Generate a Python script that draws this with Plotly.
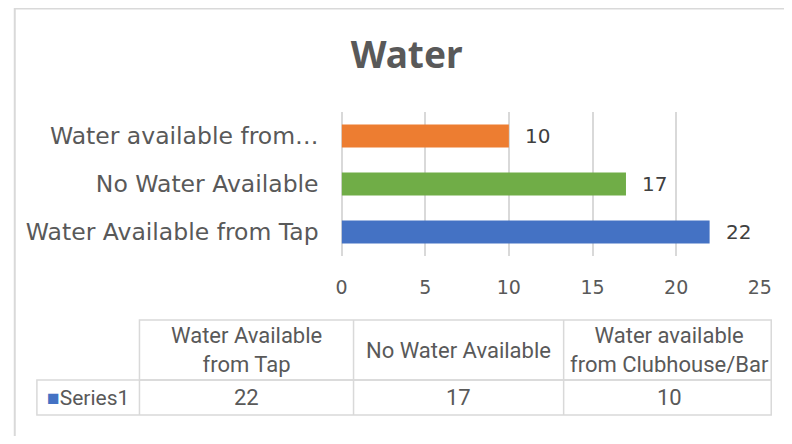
import plotly.graph_objects as go

# data
categories = ["Water Available from Tap", "No Water Available", "Water available from Clubhouse/Bar"]
tick_labels = ["Water Available from Tap", "No Water Available", "Water available from…"]
table_headers = ["Water Available<br>from Tap", "No Water Available", "Water available<br>from Clubhouse/Bar"]
series_name = "Series1"
values = [22, 17, 10]
bar_colors = ["#4472C4", "#70AD47", "#ED7D31"]
x_ticks = [0, 5, 10, 15, 20, 25]

# figure size chosen so the page (8px body margin) does not overflow the window
OFF = 8
W, H = 792 - 2 * OFF, 444 - 2 * OFF
# horizontal placement measured from earlier renders
SX, BX = 0.981, 14.0
GRID = "#d9d9d9"
TXT = "#595959"
CHART_FONT = "DejaVu Sans"
TABLE_FONT = "Roboto"


def px_x(p):
    return min(max((p - BX) / SX / W, 0.001), 0.999)


def px_y(p):
    return (H - (p - OFF)) / H


fig = go.Figure()
fig.add_trace(go.Bar(
    y=categories, x=values, orientation="h",
    marker=dict(color=bar_colors, line=dict(width=0)),
    width=0.48, hoverinfo="x+y", showlegend=False,
))

# value labels next to bars
for cat, v in zip(categories, values):
    fig.add_annotation(x=v, y=cat, text=str(v), showarrow=False, xanchor="left",
                       xshift=14, font=dict(size=20, color="#404040", family=CHART_FONT))

# data table under the chart
col_edges = [37, 140, 355, 566, 778]
head_top, head_bot, row_bot = 320, 380, 415
line = dict(color=GRID, width=1.5)
shapes = []
# header row borders (no top-left cell)
shapes.append(dict(type="rect", xref="paper", yref="paper",
                   x0=px_x(col_edges[1]), x1=px_x(col_edges[-1]),
                   y0=px_y(head_bot), y1=px_y(head_top), line=line))
shapes.append(dict(type="rect", xref="paper", yref="paper",
                   x0=px_x(col_edges[0]), x1=px_x(col_edges[-1]),
                   y0=px_y(row_bot), y1=px_y(head_bot), line=line))
for xe in col_edges[2:-1]:
    shapes.append(dict(type="line", xref="paper", yref="paper",
                       x0=px_x(xe), x1=px_x(xe), y0=px_y(row_bot), y1=px_y(head_top), line=line))
shapes.append(dict(type="line", xref="paper", yref="paper",
                   x0=px_x(col_edges[1]), x1=px_x(col_edges[1]),
                   y0=px_y(row_bot), y1=px_y(head_bot), line=line))
# outer chart border (left and top edges visible)
shapes.append(dict(type="rect", xref="paper", yref="paper",
                   x0=0.001, x1=1.05, y0=-0.05, y1=0.999,
                   line=dict(color=GRID, width=2), layer="below"))

tfont = dict(size=22, color=TXT, family=TABLE_FONT)
for i, (hdr, v) in enumerate(zip(table_headers, values)):
    cx = px_x((col_edges[i + 1] + col_edges[i + 2]) / 2)
    fig.add_annotation(x=cx, y=px_y((head_top + head_bot) / 2), xref="paper", yref="paper",
                       xanchor="center", yanchor="middle",
                       text=hdr, showarrow=False, font=tfont, align="center")
    fig.add_annotation(x=cx, y=px_y((head_bot + row_bot) / 2), xref="paper", yref="paper",
                       xanchor="center", yanchor="middle",
                       text=str(v), showarrow=False, font=tfont)
fig.add_annotation(x=px_x((col_edges[0] + col_edges[1]) / 2), y=px_y((head_bot + row_bot) / 2),
                   xref="paper", yref="paper", xanchor="center", yanchor="middle",
                   showarrow=False, font=dict(size=21, color=TXT, family=TABLE_FONT),
                   text=f"<span style='color:{bar_colors[0]}'>■</span>{series_name}")

fig.update_layout(
    width=W, height=H,
    margin=dict(l=0, r=0, t=0, b=0),
    paper_bgcolor="white", plot_bgcolor="white",
    title=dict(text="<b>Water</b>", x=px_x(405), y=px_y(55), xanchor="center", yanchor="middle",
               font=dict(size=37, color=TXT, family="Noto Sans")),
    xaxis=dict(domain=[px_x(343), px_x(763)], range=[0, 25], tickvals=x_ticks,
               showgrid=True, gridcolor=GRID, gridwidth=1.5, zeroline=True, zerolinecolor=GRID,
               zerolinewidth=1.5, showline=False, ticks="", ticklabelstandoff=18,
               tickfont=dict(size=19, color=TXT, family=CHART_FONT), fixedrange=True),
    yaxis=dict(domain=[px_y(256), px_y(112)], range=[-0.5, 2.5], tickvals=categories,
               ticktext=tick_labels, showgrid=False, showline=False, ticks="",
               ticklabelstandoff=22,
               tickfont=dict(size=23.5, color=TXT, family=CHART_FONT), fixedrange=True),
    shapes=shapes,
)

fig.write_html("out.html")
